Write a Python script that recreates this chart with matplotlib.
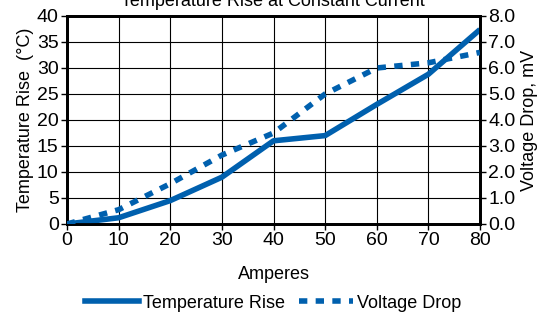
import matplotlib
matplotlib.use('Agg')
from matplotlib import pyplot as plt
from matplotlib.lines import Line2D

plt.rcParams['font.family'] = ['Liberation Sans', 'DejaVu Sans']

amps = [0, 10, 20, 30, 40, 50, 60, 70, 80]
temp_rise = [0, 1.2, 4.5, 9.0, 16.0, 17.0, 23.0, 28.8, 37.4]
volt_drop = [0, 0.55, 1.55, 2.65, 3.5, 5.0, 6.0, 6.2, 6.6]

blue = '#0060AE'

fig = plt.figure(figsize=(5.5, 3.13), dpi=100)
ax = fig.add_axes([67/550, 1 - 224/313, 413/550, 208/313])
ax2 = ax.twinx()

ax.plot(amps, temp_rise, color=blue, lw=4, solid_capstyle='butt', zorder=3)
ax2.plot(amps, volt_drop, color=blue, lw=4, linestyle=(0, (1.5, 1.5)), zorder=3)

ax.set_xlim(0, 80)
ax.set_ylim(0, 40)
ax2.set_ylim(0, 8)
ax.set_xticks(range(0, 81, 10))
ax.set_yticks(range(0, 41, 5))
ax2.set_yticks([i * 1.0 for i in range(9)])
ax2.set_yticklabels(['%.1f' % (i * 1.0) for i in range(9)])
ax.grid(True, color='black', lw=0.8)
ax.set_axisbelow(True)

for a in (ax, ax2):
    for s in a.spines.values():
        s.set_linewidth(2)
    a.tick_params(labelsize=14, length=4, width=1, pad=2)

ax.set_xlabel('Amperes', fontsize=13, labelpad=12)
ax.set_ylabel('Temperature Rise  (°C)', fontsize=13, labelpad=2)
ax2.set_ylabel('Voltage Drop, mV', fontsize=13, labelpad=4)
fig.text(273/550, 1 - 1/313, 'Temperature Rise at Constant Current', ha='center', va='center', fontsize=13)

handles = [Line2D([], [], color=blue, lw=4),
           Line2D([], [], color=blue, lw=4, linestyle=(0, (1.5, 1.5)))]
fig.legend(handles, ['Temperature Rise', 'Voltage Drop'], loc='center', bbox_to_anchor=(273/550, 1 - 303/313),
           ncol=2, frameon=False, fontsize=13, handlelength=3, columnspacing=0.8, handletextpad=0.2)

fig.savefig('out.png', dpi=100)
